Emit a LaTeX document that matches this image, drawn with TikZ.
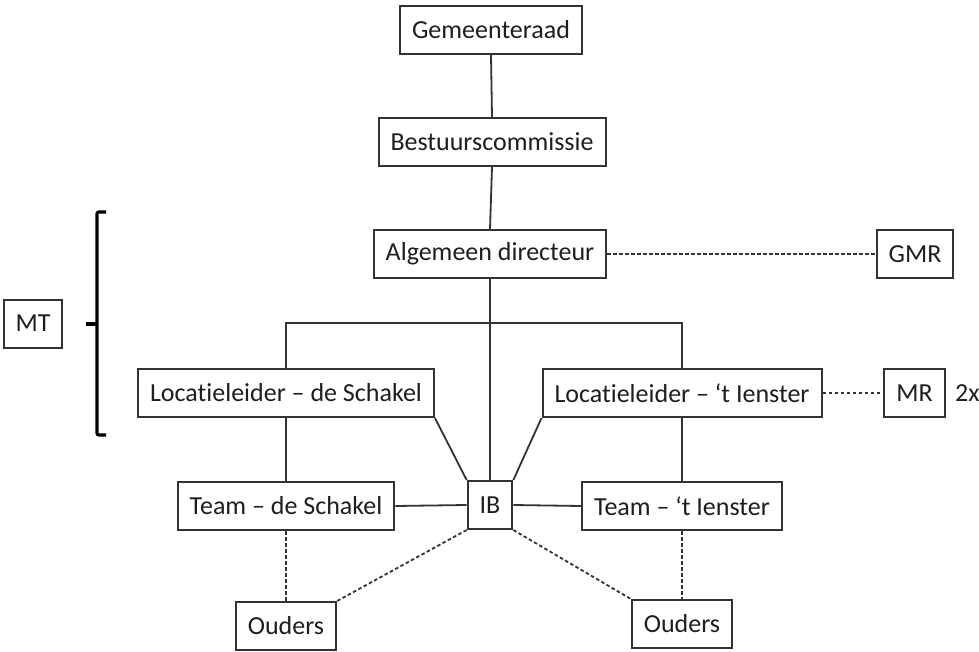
\documentclass[tikz,border=0pt]{standalone}
\usepackage{fontspec}
\setmainfont{Carlito}[Ligatures=NoCommon]
\usepackage{tikz}
\usetikzlibrary{positioning}

\definecolor{linegray}{HTML}{333333}
\definecolor{textgray}{HTML}{1E1E1E}
\newcommand{\orgfont}{\fontsize{26pt}{30pt}\selectfont}

\tikzset{
  orgbox/.style={draw=linegray, line width=2pt, fill=white, text=textgray,
    font=\orgfont, minimum height=48pt, inner xsep=12pt, inner ysep=0pt},
  orgline/.style={draw=linegray, line width=1.8pt},
  orgdash/.style={draw=linegray, line width=1.8pt, dash pattern=on 3.5pt off 2.5pt}
}

\begin{document}
\begin{tikzpicture}[x=1pt,y=-1pt]
      \useasboundingbox (0,0) rectangle (979,652);
      % boxes
      \node[orgbox] (gem) at (491,30) {Gemeenteraad};
      \node[orgbox] (bestuur) at (492,142) {Bestuurscommissie};
      \node[orgbox] (alg) at (490,254) {Algemeen directeur};
      \node[orgbox] (gmr) at (915,254) {GMR};
      \node[orgbox] (mt) at (33,323.5) {MT};
      \node[orgbox] (locS) at (286,393) {Locatieleider – de Schakel};
      \node[orgbox] (locI) at (682,393) {Locatieleider – ‘t Ienster};
      \node[orgbox] (mr) at (914.5,393) {MR};
      \node[text=textgray, font=\orgfont, anchor=west, inner sep=0pt] (twice) at (955,393) {2x};
      \node[orgbox] (teamS) at (286,506) {Team – de Schakel};
      \node[orgbox] (ib) at (490,505) {IB};
      \node[orgbox] (teamI) at (682,506) {Team – ‘t Ienster};
      \node[orgbox] (oudS) at (286,626) {Ouders};
      \node[orgbox] (oudI) at (682,624) {Ouders};
      \coordinate (bus) at (490,323);
      % bracket for MT
      \draw[black, line width=3.2pt, rounded corners=2pt] (106,212) -- (97,212) -- (97,435) -- (106,435);
      \draw[black, line width=3.2pt] (97,324) -- (86,324);
      % solid lines
      \draw[orgline] (gem.south) -- (bestuur.north);
      \draw[orgline] (bestuur.south) -- (alg.north);
      \draw[orgline] (alg.south) -- (ib.north);
      \draw[orgline] (locS.north) |- (bus) -| (locI.north);
      \draw[orgline] (locS.south) -- (teamS.north);
      \draw[orgline] (locI.south) -- (teamI.north);
      \draw[orgline] (locS.south east) -- (ib.north west);
      \draw[orgline] (locI.south west) -- (ib.north east);
      \draw[orgline] (teamS.east) -- (ib.west);
      \draw[orgline] (ib.east) -- (teamI.west);
      % dashed lines
      \draw[orgdash] (alg.east) -- (gmr.west);
      \draw[orgdash] (locI.east) -- (mr.west);
      \draw[orgdash] (teamS.south) -- (oudS.north);
      \draw[orgdash] (teamI.south) -- (oudI.north);
      \draw[orgdash] (ib.south west) -- (oudS.north east);
      \draw[orgdash] (ib.south east) -- (oudI.north west);
    \end{tikzpicture}
\end{document}
